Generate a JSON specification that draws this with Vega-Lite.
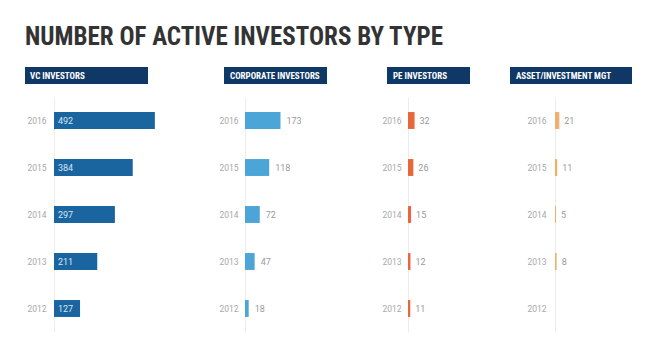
{
  "$schema": "https://vega.github.io/schema/vega-lite/v6.json",
  "background": "white",
  "padding": {"left": 25, "top": 25, "right": 5, "bottom": 5},
  "title": {
    "text": "NUMBER OF ACTIVE INVESTORS BY TYPE",
    "anchor": "start",
    "font": "Liberation Sans Narrow, Roboto Condensed, DejaVu Sans Condensed, sans-serif",
    "fontSize": 25,
    "fontWeight": "bold",
    "color": "#333333",
    "offset": 17
  },
  "config": {"view": {"stroke": null}},
  "datasets": {
    "investors": [
      {"type": "VC", "year": "2016", "value": 492},
      {"type": "VC", "year": "2015", "value": 384},
      {"type": "VC", "year": "2014", "value": 297},
      {"type": "VC", "year": "2013", "value": 211},
      {"type": "VC", "year": "2012", "value": 127},
      {"type": "Corporate", "year": "2016", "value": 173},
      {"type": "Corporate", "year": "2015", "value": 118},
      {"type": "Corporate", "year": "2014", "value": 72},
      {"type": "Corporate", "year": "2013", "value": 47},
      {"type": "Corporate", "year": "2012", "value": 18},
      {"type": "PE", "year": "2016", "value": 32},
      {"type": "PE", "year": "2015", "value": 26},
      {"type": "PE", "year": "2014", "value": 15},
      {"type": "PE", "year": "2013", "value": 12},
      {"type": "PE", "year": "2012", "value": 11},
      {"type": "Asset", "year": "2016", "value": 21},
      {"type": "Asset", "year": "2015", "value": 11},
      {"type": "Asset", "year": "2014", "value": 5},
      {"type": "Asset", "year": "2013", "value": 8}
    ]
  },
  "spacing": 13,
  "vconcat": [
    {
      "spacing": 0,
      "hconcat": [
        {
          "width": 123, "height": 17,
          "data": {"values": [{"label": "VC INVESTORS"}]},
          "view": {"fill": "#0f3866", "stroke": null},
          "mark": {"type": "text", "align": "left", "baseline": "middle", "dx": 5, "font": "Liberation Sans Narrow, Roboto Condensed, sans-serif", "fontSize": 9, "fontWeight": "bold", "color": "white"},
          "encoding": {"text": {"field": "label"}, "x": {"datum": 0, "scale": {"domain": [0, 1]}, "axis": null}}
        },
        {
          "width": 103, "height": 17,
          "data": {"values": [{"label": "CORPORATE INVESTORS"}]},
          "view": {"fill": "#0f3866", "stroke": null},
          "mark": {"type": "text", "align": "left", "baseline": "middle", "dx": 6, "font": "Liberation Sans Narrow, Roboto Condensed, sans-serif", "fontSize": 9, "fontWeight": "bold", "color": "white"},
          "encoding": {
            "text": {"field": "label"},
            "x": {"datum": 0, "scale": {"domain": [0, 1]}, "axis": null},
            "y": {"datum": "h", "type": "nominal", "axis": {"title": null, "labels": false, "ticks": false, "domain": false, "grid": false, "minExtent": 76}}
          }
        },
        {
          "width": 83, "height": 17,
          "data": {"values": [{"label": "PE INVESTORS"}]},
          "view": {"fill": "#0f3866", "stroke": null},
          "mark": {"type": "text", "align": "left", "baseline": "middle", "dx": 6, "font": "Liberation Sans Narrow, Roboto Condensed, sans-serif", "fontSize": 9, "fontWeight": "bold", "color": "white"},
          "encoding": {
            "text": {"field": "label"},
            "x": {"datum": 0, "scale": {"domain": [0, 1]}, "axis": null},
            "y": {"datum": "h", "type": "nominal", "axis": {"title": null, "labels": false, "ticks": false, "domain": false, "grid": false, "minExtent": 60}}
          }
        },
        {
          "width": 122, "height": 17,
          "data": {"values": [{"label": "ASSET/INVESTMENT MGT"}]},
          "view": {"fill": "#0f3866", "stroke": null},
          "mark": {"type": "text", "align": "left", "baseline": "middle", "dx": 6, "font": "Liberation Sans Narrow, Roboto Condensed, sans-serif", "fontSize": 9, "fontWeight": "bold", "color": "white"},
          "encoding": {
            "text": {"field": "label"},
            "x": {"datum": 0, "scale": {"domain": [0, 1]}, "axis": null},
            "y": {"datum": "h", "type": "nominal", "axis": {"title": null, "labels": false, "ticks": false, "domain": false, "grid": false, "minExtent": 40}}
          }
        }
      ]
    },
    {
      "spacing": 0,
      "hconcat": [
        {
          "width": 1, "height": 235,
          "data": {"values": []},
          "mark": {"type": "point", "opacity": 0},
          "encoding": {}
        },
        {
          "width": 164, "height": 235,
          "data": {"name": "investors"},
          "transform": [{"filter": "datum.type === 'VC'"}],
          "encoding": {
            "y": {"field": "year", "type": "ordinal",
              "scale": {"domain": ["2016", "2015", "2014", "2013", "2012"], "paddingInner": 0.64, "paddingOuter": 0.32},
              "axis": {"title": null, "ticks": false, "labelPadding": 8, "labelFontSize": 8.5, "labelColor": "#a8a8a8", "labelFont": "Roboto", "domainColor": "#ececec", "minExtent": 27}}
          },
          "layer": [
            {"mark": {"type": "bar", "color": "#1a64a0"},
             "encoding": {"x": {"field": "value", "type": "quantitative", "scale": {"domain": [0, 800], "nice": false}, "axis": null}}},
            {"mark": {"type": "text", "align": "left", "baseline": "middle", "dx": 4, "font": "Roboto", "fontSize": 9, "color": "#d6e6f4"},
             "encoding": {"x": {"datum": 0}, "text": {"field": "value", "type": "quantitative"}}}
          ]
        },
        {
          "width": 136, "height": 235,
          "data": {"name": "investors"},
          "transform": [{"filter": "datum.type === 'Corporate'"}],
          "encoding": {
            "y": {"field": "year", "type": "ordinal",
              "scale": {"domain": ["2016", "2015", "2014", "2013", "2012"], "paddingInner": 0.64, "paddingOuter": 0.32},
              "axis": {"title": null, "ticks": false, "labelPadding": 7, "labelFontSize": 8.5, "labelColor": "#a8a8a8", "labelFont": "Roboto", "domainColor": "#ececec", "minExtent": 27}}
          },
          "layer": [
            {"mark": {"type": "bar", "color": "#4ba5d6"},
             "encoding": {"x": {"field": "value", "type": "quantitative", "scale": {"domain": [0, 663], "nice": false}, "axis": null}}},
            {"mark": {"type": "text", "align": "left", "baseline": "middle", "dx": 6, "font": "Roboto", "fontSize": 9, "color": "#9a9a9a"},
             "encoding": {"x": {"field": "value", "type": "quantitative"}, "text": {"field": "value", "type": "quantitative"}}}
          ]
        },
        {
          "width": 103, "height": 235,
          "data": {"name": "investors"},
          "transform": [{"filter": "datum.type === 'PE'"}],
          "encoding": {
            "y": {"field": "year", "type": "ordinal",
              "scale": {"domain": ["2016", "2015", "2014", "2013", "2012"], "paddingInner": 0.64, "paddingOuter": 0.32},
              "axis": {"title": null, "ticks": false, "labelPadding": 7, "labelFontSize": 8.5, "labelColor": "#a8a8a8", "labelFont": "Roboto", "domainColor": "#ececec", "minExtent": 27}}
          },
          "layer": [
            {"mark": {"type": "bar", "color": "#e8663b"},
             "encoding": {"x": {"field": "value", "type": "quantitative", "scale": {"domain": [0, 502], "nice": false}, "axis": null}}},
            {"mark": {"type": "text", "align": "left", "baseline": "middle", "dx": 5, "font": "Roboto", "fontSize": 9, "color": "#9a9a9a"},
             "encoding": {"x": {"field": "value", "type": "quantitative"}, "text": {"field": "value", "type": "quantitative"}}}
          ]
        },
        {
          "width": 100, "height": 235,
          "data": {"name": "investors"},
          "transform": [{"filter": "datum.type === 'Asset'"}],
          "encoding": {
            "y": {"field": "year", "type": "ordinal",
              "scale": {"domain": ["2016", "2015", "2014", "2013", "2012"], "paddingInner": 0.64, "paddingOuter": 0.32},
              "axis": {"title": null, "ticks": false, "labelPadding": 9, "labelFontSize": 8.5, "labelColor": "#a8a8a8", "labelFont": "Roboto", "domainColor": "#ececec", "minExtent": 44}}
          },
          "layer": [
            {"mark": {"type": "bar", "color": "#efb06e"},
             "encoding": {"x": {"field": "value", "type": "quantitative", "scale": {"domain": [0, 488], "nice": false}, "axis": null}}},
            {"mark": {"type": "text", "align": "left", "baseline": "middle", "dx": 5, "font": "Roboto", "fontSize": 9, "color": "#9a9a9a"},
             "encoding": {"x": {"field": "value", "type": "quantitative"}, "text": {"field": "value", "type": "quantitative"}}}
          ]
        }
      ]
    }
  ]
}
